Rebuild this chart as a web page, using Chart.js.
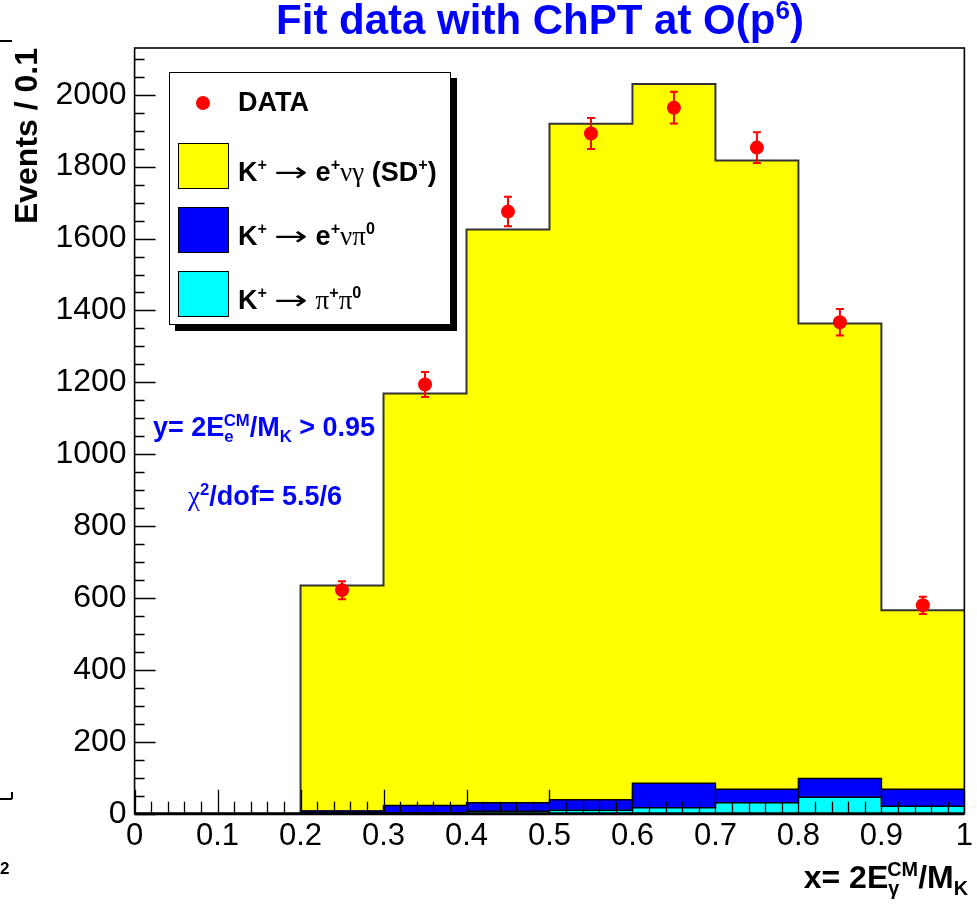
<!DOCTYPE html>
<html>
<head>
<meta charset="utf-8">
<title>Fit data with ChPT at O(p6)</title>
<script src="https://cdn.jsdelivr.net/npm/chart.js@4.4.1/dist/chart.umd.min.js"></script>
<style>
  body { margin: 0; background: #fff; font-family: "Liberation Sans", Arial, sans-serif; }
  #wrap { position: relative; width: 977px; height: 909px; }
  #c { position: absolute; left: 0; top: 0; }
  .lbl { position: absolute; font-weight: bold; white-space: nowrap; }
  .lbl sup, .lbl sub { font-size: 62%; }
  .gr { font-family: "Liberation Serif", serif; font-weight: normal; }
  .ar { font-family: "DejaVu Sans", sans-serif; font-weight: normal; font-size: 100%; display: inline-block; transform: scaleX(1.5); margin: 0 13px; }
  #legend { position: absolute; left: 169px; top: 72px; width: 280px; height: 251px;
            border: 1.5px solid #000; background: #fff; box-shadow: 6px 6px 0 #000; }
  .sw { position: absolute; left: 8px; width: 49px; height: 44px; border: 1px solid #000; }
  .lt { position: absolute; left: 68px; font-size: 27px; font-weight: bold; white-space: nowrap; line-height: 27px; }
  .lt sup { font-size: 60%; vertical-align: 0.7em; }
</style>
</head>
<body>
<div id="wrap">
  <canvas id="c" width="977" height="909"></canvas>

  <div class="lbl" style="left:124px; width:832px; top:-5px; text-align:center; color:#0000ff; font-size:42px;">
    Fit data with ChPT at O(p<sup>6</sup>)</div>

  <div id="legend">
    <div style="position:absolute; left:26px; top:23px; width:14px; height:14px; border-radius:50%; background:#ff0000;"></div>
    <div class="lt" style="top:16px;">DATA</div>
    <div class="sw" style="top:70px; background:#ffff00;"></div>
    <div class="lt" style="top:78px;">K<sup>+</sup><span class="ar">&rarr;</span>e<sup>+</sup><span class="gr">&nu;&gamma;</span> (SD<sup>+</sup>)</div>
    <div class="sw" style="top:134px; background:#0000ff;"></div>
    <div class="lt" style="top:142px;">K<sup>+</sup><span class="ar">&rarr;</span>e<sup>+</sup><span class="gr">&nu;&pi;</span><sup>0</sup></div>
    <div class="sw" style="top:198px; background:#00ffff;"></div>
    <div class="lt" style="top:206px;">K<sup>+</sup><span class="ar">&rarr;</span><span class="gr">&pi;</span><sup>+</sup><span class="gr">&pi;</span><sup>0</sup></div>
  </div>

  <div class="lbl" style="left:153px; top:411px; color:#0000ff; font-size:27px;">
    y= 2E<sub>e</sub><sup style="margin-left:-10px;">CM</sup>/M<sub>K</sub> &gt; 0.95</div>
  <div class="lbl" style="left:188px; top:480px; color:#0000ff; font-size:27px;">
    <span class="gr">&chi;</span><sup>2</sup>/dof= 5.5/6</div>

  <div class="lbl" style="right:9px; top:858px; color:#000; font-size:32px;">
    x= 2E<sub>&gamma;</sub><sup style="margin-left:-12px;">CM</sup>/M<sub>K</sub></div>

  <!-- bits of the neighbouring pad at the left edge -->
  <div style="position:absolute; left:0; top:40px; width:12px; height:1.5px; background:#000;"></div>
  <div style="position:absolute; left:0; top:798px; width:12px; height:1.5px; background:#000;"></div>
  <div style="position:absolute; left:11px; top:792px; width:1.5px; height:7px; background:#000;"></div>
  <div class="lbl" style="left:0; top:859px; font-size:17px;">2</div>
</div>

<script>
// bin layout (x = 2E_gamma/M_K, 10 bins of 0.1)
const binEdges = [0, 0.1, 0.2, 0.3, 0.4, 0.5, 0.6, 0.7, 0.8, 0.9, 1.0];
const binCenters = [0.05, 0.15, 0.25, 0.35, 0.45, 0.55, 0.65, 0.75, 0.85, 0.95];

// stacked MC components, events / 0.1
const pipi0 = [0, 0, 2, 3, 7, 10, 17, 31, 46, 21];          // K+ -> pi+ pi0
const enupi0 = [0, 0, 6, 20, 24, 29, 68, 37, 52, 47];        // K+ -> e+ nu pi0
const enugSD = [0, 0, 627, 1146, 1594, 1880, 1945, 1749, 1266, 498]; // K+ -> e+ nu gamma (SD+)

// data points
const dataX = [0.25, 0.35, 0.45, 0.55, 0.65, 0.75, 0.85, 0.95];
const dataY = [622, 1194, 1675, 1892, 1964, 1853, 1367, 580];
const dataErr = [25, 35, 41, 43, 44, 43, 37, 24];

const yTicks = [0, 200, 400, 600, 800, 1000, 1200, 1400, 1600, 1800, 2000];

// cumulative levels for the histogram outlines
const lvl1 = pipi0.slice();
const lvl2 = pipi0.map((v, i) => v + enupi0[i]);
const lvl3 = lvl2.map((v, i) => v + enugSD[i]);

function stepPts(arr) {
  const pts = binEdges.slice(0, -1).map((x, i) => ({x: x, y: arr[i]}));
  pts.push({x: 1.0, y: arr[arr.length - 1]});
  return pts;
}
function barPts(arr) {
  return binCenters.map((x, i) => ({x: x, y: arr[i]}));
}

const framePlugin = {
  id: 'rootframe',
  afterDatasetsDraw(chart) {
    const ctx = chart.ctx;
    const a = chart.chartArea;
    const xs = chart.scales.x, ys = chart.scales.y;
    ctx.save();
    // error bars
    ctx.strokeStyle = '#ff0000';
    ctx.lineWidth = 2;
    dataX.forEach((x, i) => {
      const px = xs.getPixelForValue(x);
      const y1 = ys.getPixelForValue(dataY[i] + dataErr[i]);
      const y2 = ys.getPixelForValue(dataY[i] - dataErr[i]);
      ctx.beginPath();
      ctx.moveTo(px, y1); ctx.lineTo(px, y2);
      ctx.moveTo(px - 4, y1); ctx.lineTo(px + 4, y1);
      ctx.moveTo(px - 4, y2); ctx.lineTo(px + 4, y2);
      ctx.stroke();
    });
    // ticks inside the frame
    ctx.strokeStyle = '#000';
    ctx.lineWidth = 1.3;
    ctx.beginPath();
    for (let v = 0; v <= ys.max; v += 50) {
      const py = Math.round(ys.getPixelForValue(v)) + 0.5;
      const len = (v % 200 === 0) ? 21 : 10;
      ctx.moveTo(a.left, py); ctx.lineTo(a.left + len, py);
    }
    for (let k = 0; k <= 50; k++) {
      const px = Math.round(xs.getPixelForValue(k * 0.02)) + 0.5;
      const len = (k % 5 === 0) ? 24 : 12;
      ctx.moveTo(px, a.bottom); ctx.lineTo(px, a.bottom - len);
    }
    ctx.stroke();
    // frame
    ctx.lineWidth = 1.6;
    ctx.strokeRect(a.left, a.top, a.right - a.left, a.bottom - a.top);
    ctx.lineWidth = 3;
    ctx.beginPath();
    ctx.moveTo(a.left, a.bottom); ctx.lineTo(a.right, a.bottom);
    ctx.stroke();
    ctx.restore();
  }
};

const ctx = document.getElementById('c').getContext('2d');
const chart = new Chart(ctx, {
  type: 'bar',
  data: {
    datasets: [
      { type: 'line', label: 'DATA', data: dataX.map((x, i) => ({x: x, y: dataY[i]})), stack: 'pts',
        showLine: false, pointRadius: 7, pointBackgroundColor: '#ff0000', pointBorderWidth: 0 },
      { type: 'line', label: 'tot', data: stepPts(lvl3), stack: 'o3', stepped: 'before',
        borderColor: '#333333', borderWidth: 2, pointRadius: 0, fill: false },
      { type: 'line', label: 'l2', data: stepPts(lvl2), stack: 'o2', stepped: 'before',
        borderColor: '#000000', borderWidth: 1.5, pointRadius: 0, fill: false },
      { type: 'line', label: 'l1', data: stepPts(lvl1), stack: 'o1', stepped: 'before',
        borderColor: '#000000', borderWidth: 1.5, pointRadius: 0, fill: false },
      { label: 'K+ -> pi+ pi0', data: barPts(pipi0), backgroundColor: '#00ffff', borderWidth: 0 },
      { label: 'K+ -> e+ nu pi0', data: barPts(enupi0), backgroundColor: '#0000ff', borderWidth: 0 },
      { label: 'K+ -> e+ nu gamma (SD+)', data: barPts(enugSD), backgroundColor: '#ffff00', borderWidth: 0 }
    ]
  },
  options: {
    responsive: false,
    animation: false,
    categoryPercentage: 1.0,
    barPercentage: 1.0,
    layout: { padding: { top: 48, right: 9, bottom: 50, left: 9 } },
    plugins: { legend: { display: false }, tooltip: { enabled: false } },
    scales: {
      x: {
        type: 'linear', min: 0, max: 1, stacked: true, offset: false,
        grid: { display: false, drawTicks: false, offset: false },
        border: { display: false },
        ticks: { stepSize: 0.1, autoSkip: false, maxRotation: 0, padding: 4,
                 callback: (v) => String(Math.round(v * 10) / 10),
                 color: '#000', font: { family: 'Liberation Sans', size: 31 } }
      },
      y: {
        min: 0, max: 2130, stacked: true,
        grid: { display: false, drawTicks: false },
        border: { display: false },
        afterBuildTicks: (s) => { s.ticks = yTicks.map(v => ({value: v})); },
        ticks: { padding: 8, color: '#000', callback: (v) => String(v),
                 font: { family: 'Liberation Sans', size: 32 } },
        title: { display: true, text: 'Events / 0.1', align: 'end', color: '#000',
                 font: { family: 'Liberation Sans', size: 32, weight: 'bold' }, padding: { top: 0, bottom: 0 } }
      }
    }
  },
  plugins: [framePlugin]
});
</script>
</body>
</html>
